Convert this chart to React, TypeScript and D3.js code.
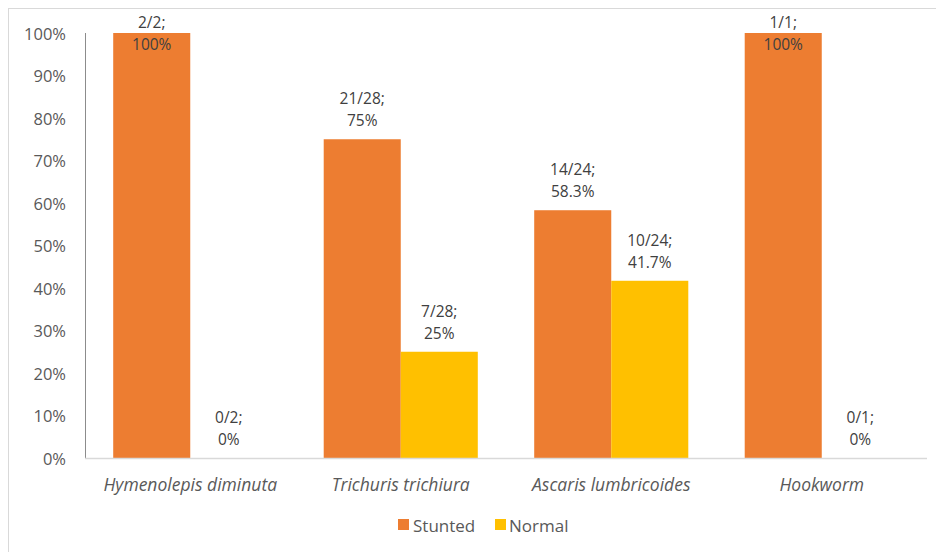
import React from "react";
import * as d3 from "d3";

const categories = ["Hymenolepis diminuta", "Trichuris trichiura", "Ascaris lumbricoides", "Hookworm"];
const seriesNames = ["Stunted", "Normal"];
const stuntedValues = [100, 75, 58.3, 100];
const normalValues = [0, 25, 41.7, 0];
const stuntedCounts = ["2/2;", "21/28;", "14/24;", "1/1;"];
const normalCounts = ["0/2;", "7/28;", "10/24;", "0/1;"];
const stuntedPct = ["100%", "75%", "58.3%", "100%"];
const normalPct = ["0%", "25%", "41.7%", "0%"];
const yTicks = [0, 10, 20, 30, 40, 50, 60, 70, 80, 90, 100];
const colors = ["#ED7D31", "#FFC000"];

const W = 936;
const H = 552;
const FONT = "'Open Sans', 'Liberation Sans', sans-serif";

export default function App() {
  const left = 85;
  const right = 927;
  const top = 33;
  const bottom = 458;

  const y = d3.scaleLinear().domain([0, 100]).range([bottom, top]);
  const x0 = d3
    .scaleBand<string>()
    .domain(categories)
    .range([left, right])
    .paddingInner(0.268)
    .paddingOuter(0.134);
  const x1 = d3.scaleBand<string>().domain(seriesNames).range([0, x0.bandwidth()]);

  const series = [
    { name: seriesNames[0], values: stuntedValues, counts: stuntedCounts, pct: stuntedPct, color: colors[0] },
    { name: seriesNames[1], values: normalValues, counts: normalCounts, pct: normalPct, color: colors[1] },
  ];

  return (
    <div style={{ position: "fixed", left: 0, top: 0, width: W, height: H, background: "#fff" }}>
      <svg width={W} height={H} style={{ display: "block" }}>
        <rect x={8.5} y={8.5} width={W + 10} height={H + 10} fill="#fff" stroke="#D9D9D9" strokeWidth={1} />
        {/* y ticks */}
        {yTicks.map((t) => (
          <text
            key={t}
            x={66}
            y={y(t)}
            textAnchor="end"
            dominantBaseline="central"
            fontFamily={FONT}
            fontSize={16.5}
            fill="#595959"
          >
            {t}%
          </text>
        ))}
        {/* bars */}
        {series.map((s) =>
          categories.map((c, i) => {
            const bx = (x0(c) as number) + (x1(s.name) as number);
            const bw = x1.bandwidth();
            const by = y(s.values[i]);
            return (
              <rect key={s.name + c} x={bx} y={by} width={bw} height={bottom - by} fill={s.color} />
            );
          })
        )}
        {/* axes */}
        <line x1={left + 0.5} x2={left + 0.5} y1={top} y2={bottom} stroke="#8C8C8C" strokeWidth={1} />
        <line x1={left} x2={right} y1={bottom + 0.5} y2={bottom + 0.5} stroke="#D9D9D9" strokeWidth={1.5} />
        {/* data labels */}
        {series.map((s) =>
          categories.map((c, i) => {
            const cx = (x0(c) as number) + (x1(s.name) as number) + x1.bandwidth() / 2;
            const line2 = Math.max(y(s.values[i]) - 19, 44);
            const line1 = line2 - 22;
            return (
              <g key={"l" + s.name + c} fontFamily={FONT} fontSize={15.5} fill="#404040" textAnchor="middle">
                <text x={cx} y={line1} dominantBaseline="central">
                  {s.counts[i]}
                </text>
                <text x={cx} y={line2} dominantBaseline="central">
                  {s.pct[i]}
                </text>
              </g>
            );
          })
        )}
        {/* category labels */}
        {categories.map((c) => (
          <text
            key={"c" + c}
            x={(x0(c) as number) + x0.bandwidth() / 2}
            y={484}
            textAnchor="middle"
            dominantBaseline="central"
            fontFamily={FONT}
            fontSize={17.5}
            fontStyle="italic"
            fill="#595959"
          >
            {c}
          </text>
        ))}
        {/* legend */}
        <g fontFamily={FONT} fontSize={17} fill="#595959">
          <rect x={398} y={519} width={11} height={11} fill={colors[0]} />
          <text x={413} y={525} dominantBaseline="central">
            {seriesNames[0]}
          </text>
          <rect x={495} y={519} width={11} height={11} fill={colors[1]} />
          <text x={509} y={525} dominantBaseline="central">
            {seriesNames[1]}
          </text>
        </g>
      </svg>
    </div>
  );
}
